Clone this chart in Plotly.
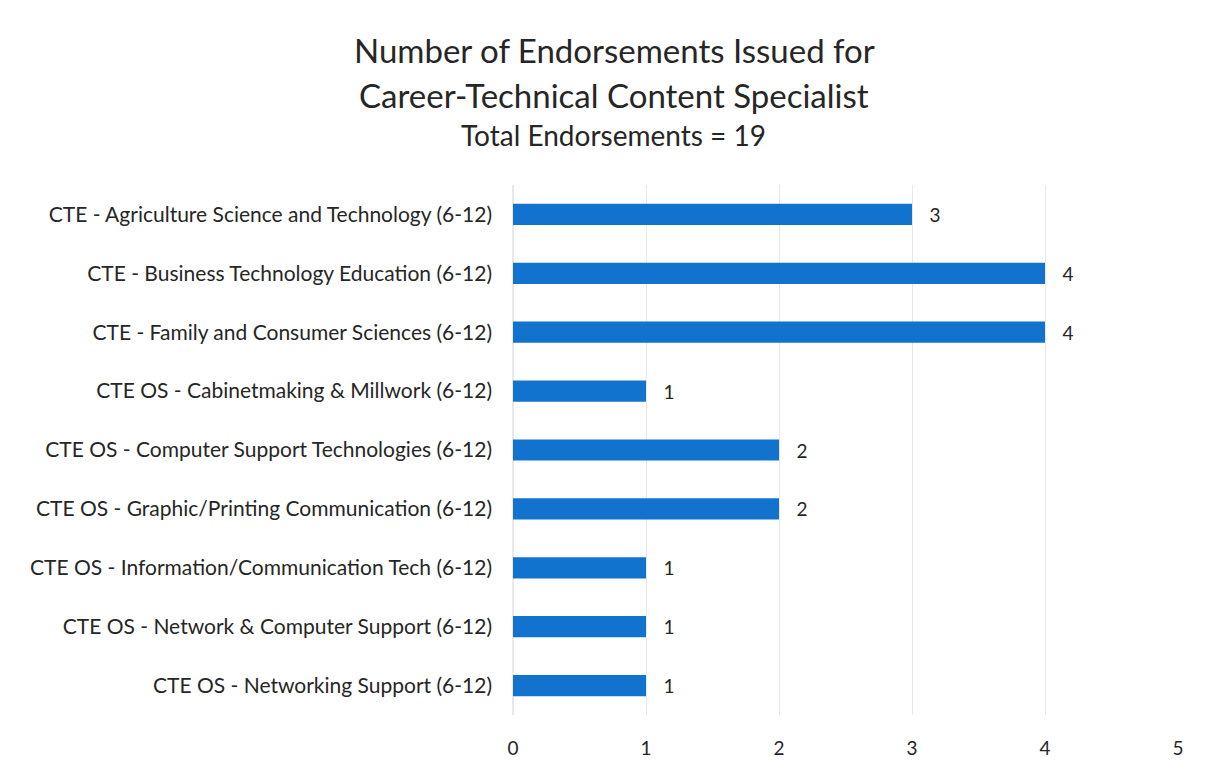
import plotly.graph_objects as go

categories = [
    "CTE - Agriculture Science and Technology (6-12)",
    "CTE - Business Technology Education (6-12)",
    "CTE - Family and Consumer Sciences (6-12)",
    "CTE OS - Cabinetmaking & Millwork (6-12)",
    "CTE OS - Computer Support Technologies (6-12)",
    "CTE OS - Graphic/Printing Communication (6-12)",
    "CTE OS - Information/Communication Tech (6-12)",
    "CTE OS - Network & Computer Support (6-12)",
    "CTE OS - Networking Support (6-12)",
]
endorsements = [3, 4, 4, 1, 2, 2, 1, 1, 1]
x_ticks = [0, 1, 2, 3, 4, 5]
title_lines = [
    "Number of Endorsements Issued for",
    "Career-Technical Content Specialist",
]
subtitle = "Total Endorsements = 19"

FONT = "Lato, 'Open Sans', sans-serif"
BAR = "#1273cf"
TEXT = "#262626"

fig = go.Figure(
    go.Bar(
        x=endorsements,
        y=categories,
        orientation="h",
        width=0.36,
        marker=dict(color=BAR, line=dict(width=0)),
        text=["   " + str(v) for v in endorsements],
        textposition="outside",
        constraintext="none",
        textfont=dict(family=FONT, size=19, color=TEXT),
        cliponaxis=False,
    )
)

# Title block drawn as paper-anchored text lines
title_y = [50, 95]
for line, ypx in zip(title_lines, title_y):
    fig.add_annotation(
        text=line, xref="paper", yref="paper",
        x=(614 - 513) / (1178 - 513), y=1 + (185 - ypx) / (715 - 185),
        xanchor="center", yanchor="middle", showarrow=False,
        font=dict(family=FONT, size=33, color=TEXT),
    )
fig.add_annotation(
    text=subtitle, xref="paper", yref="paper",
    x=(613 - 513) / (1178 - 513), y=1 + (185 - 135) / (715 - 185),
    xanchor="center", yanchor="middle", showarrow=False,
    font=dict(family=FONT, size=28, color=TEXT),
)

fig.update_layout(
    width=1207,
    height=773,
    paper_bgcolor="white",
    plot_bgcolor="white",
    margin=dict(l=513, r=29, t=185, b=58),
    showlegend=False,
    xaxis=dict(
        range=[0, 5],
        tickvals=x_ticks,
        ticktext=[str(t) for t in x_ticks],
        showgrid=True,
        gridcolor="#e8e8e8",
        gridwidth=1,
        zeroline=True,
        zerolinecolor="#e8e8e8",
        showline=False,
        ticks="",
        tickfont=dict(family=FONT, size=19, color=TEXT),
        ticklabelstandoff=20,
    ),
    yaxis=dict(
        autorange="reversed",
        showgrid=False,
        showline=False,
        ticks="",
        tickfont=dict(family=FONT, size=21, color=TEXT),
        ticklabelstandoff=20,
    ),
)

fig.write_html("out.html")
